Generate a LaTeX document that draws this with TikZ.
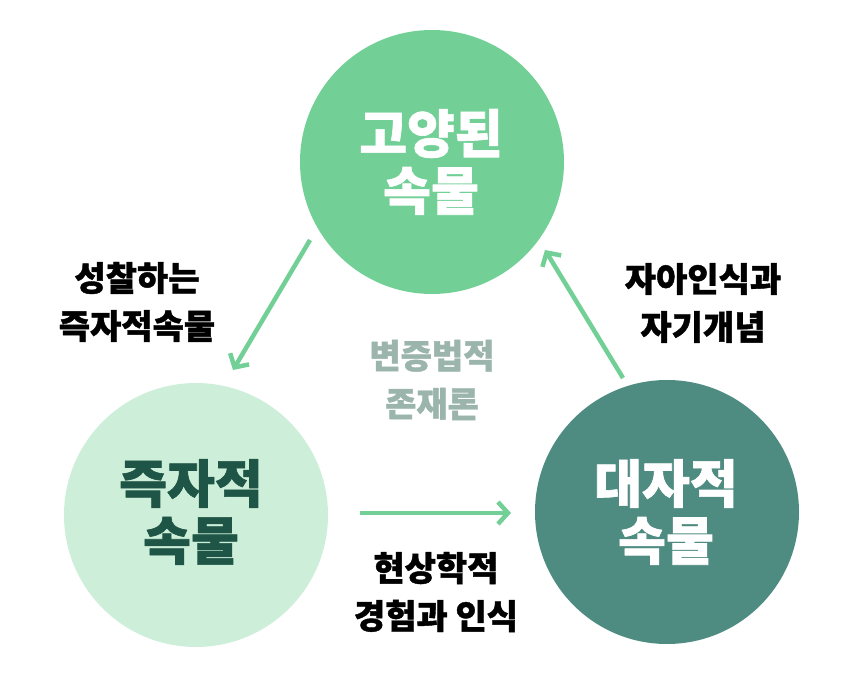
\documentclass[tikz,border=0pt]{standalone}
\usepackage{fontspec}
\setmainfont{Noto Sans CJK KR}[BoldFeatures={FakeBold=1.2}]
\usetikzlibrary{arrows.meta}
\definecolor{topgreen}{HTML}{72CF96}
\definecolor{lightgreen}{HTML}{CDEFDA}
\definecolor{teal}{HTML}{4E8C82}
\definecolor{darkgreen}{HTML}{1E5546}
\definecolor{greytext}{HTML}{9BB5AD}
\definecolor{arrowgreen}{HTML}{72CF96}
\begin{document}
\begin{tikzpicture}[x=1pt,y=-1pt,
  circ/.style={circle,minimum size=264pt,inner sep=0pt},
  bigtxt/.style={font=\bfseries\fontsize{52}{57}\selectfont,align=center},
  lbl/.style={font=\bfseries\fontsize{34}{48}\selectfont,align=center,text=black},
  conn/.style={draw=arrowgreen,line width=4.5pt,-{Straight Barb[length=10pt,width=22pt,line width=4.5pt]}}]
\useasboundingbox (0,0) rectangle (860,700);
\node[circ,fill=topgreen] (top) at (432,162) {};
\node[circ,fill=lightgreen] (left) at (196,515) {};
\node[circ,fill=teal] (right) at (667,512) {};
\node[bigtxt,text=white] (ttop) at (431,162) {고양된\\속물};
\node[bigtxt,text=darkgreen] (tleft) at (191,512) {즉자적\\속물};
\node[bigtxt,text=white] (tright) at (666,512) {대자적\\속물};
\node[lbl] (l1) at (137,302) {성찰하는\\즉자적속물};
\node[lbl] (l2) at (703,303) {자아인식과\\자기개념};
\node[lbl] (l3) at (436,592) {현상학적\\경험과 인식};
\node[lbl,text=greytext] (c) at (432,380) {변증법적\\존재론};
\coordinate (a1s) at (310,240);
\coordinate (a1e) at (233,370);
\coordinate (a2s) at (623,378);
\coordinate (a2e) at (545,250);
\coordinate (a3s) at (360,513);
\coordinate (a3e) at (511,513);
\draw[conn] (a1s) -- (a1e);
\draw[conn] (a2s) -- (a2e);
\draw[conn] (a3s) -- (a3e);
\end{tikzpicture}
\end{document}
